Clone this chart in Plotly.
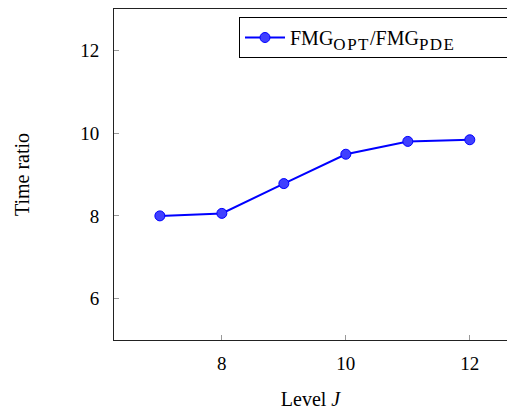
import plotly.graph_objects as go

levels = [7, 8, 9, 10, 11, 12]
time_ratio = [8.0, 8.06, 8.78, 9.49, 9.80, 9.84]
x_ticks = [8, 10, 12]
y_ticks = [6, 8, 10, 12]

W, H = 507, 410
L, R, T, B = 114, 0, 9, 70
SERIF = "Liberation Serif"

sub = lambda s: '<sub><span style="font-size:17px;letter-spacing:1.5px">' + s + '</span></sub>'

fig = go.Figure()
fig.add_trace(go.Scatter(
    x=levels, y=time_ratio, mode="lines+markers",
    name="FMG" + sub("OPT") + "/FMG" + sub("PDE"),
    line=dict(color="#0000ff", width=2),
    marker=dict(size=10, color="#4040ff", line=dict(color="#0000ff", width=1)),
))

fig.update_layout(
    width=W, height=H,
    margin=dict(l=L, r=R, t=T, b=B, pad=0, autoexpand=False),
    plot_bgcolor="white", paper_bgcolor="white",
    font=dict(family=SERIF, size=19, color="black"),
    showlegend=True,
    legend=dict(
        x=(239 - L) / (W - L - R), y=1 - (17 - T) / (H - T - B),
        xanchor="left", yanchor="top", orientation="h",
        entrywidth=230, entrywidthmode="pixels",
        bordercolor="black", borderwidth=1, bgcolor="white",
        font=dict(family=SERIF, size=20, color="black"),
        itemwidth=40,
    ),
    xaxis=dict(
        range=[6.26, 12.6], tickvals=x_ticks, ticks="inside", ticklen=5,
        tickcolor="#999999", showgrid=False, zeroline=False,
        showline=True, linecolor="#222222", linewidth=1, mirror=True,
        tickfont=dict(family=SERIF, size=19, color="black"),
        ticklabelstandoff=6, automargin=False,
        title=dict(text="Level <i>J</i>", standoff=24,
                   font=dict(family=SERIF, size=20, color="black")),
    ),
    yaxis=dict(
        range=[5, 13], tickvals=y_ticks, ticks="inside", ticklen=5,
        tickcolor="#999999", showgrid=False, zeroline=False,
        showline=True, linecolor="#222222", linewidth=1,
        tickfont=dict(family=SERIF, size=19, color="black"),
        ticklabelstandoff=10, automargin=False,
        title=dict(text="Time ratio", standoff=45,
                   font=dict(family=SERIF, size=20, color="black")),
    ),
)
fig.write_html("out.html")
